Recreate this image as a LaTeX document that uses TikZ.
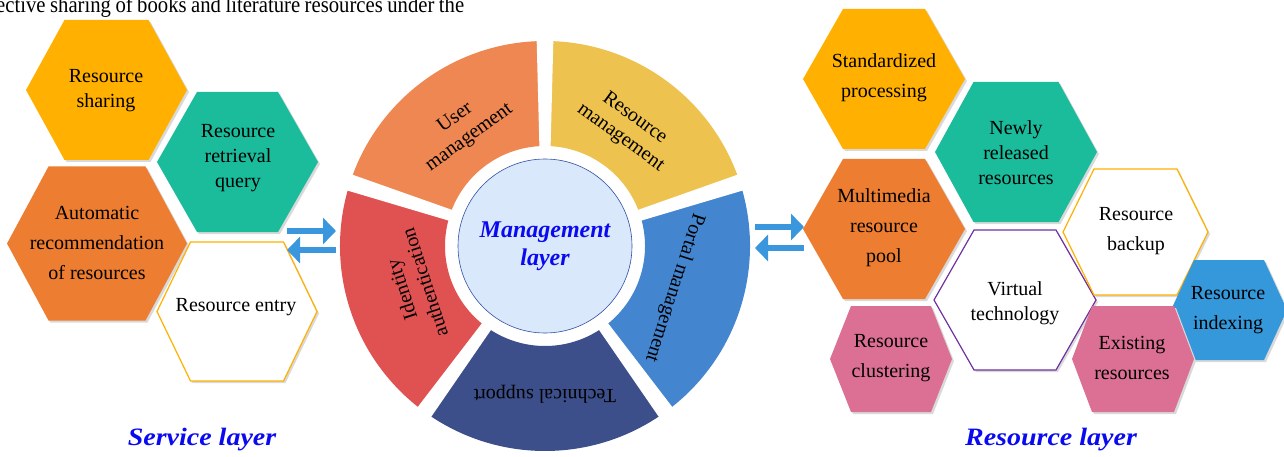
\documentclass[tikz,border=0pt]{standalone}
\usepackage{fontspec}
\setmainfont{Liberation Serif}
\usetikzlibrary{arrows.meta}
\definecolor{hexyellow}{HTML}{FFB000}
\definecolor{hexteal}{HTML}{1ABC9C}
\definecolor{hexorange}{HTML}{ED7D31}
\definecolor{hexpink}{HTML}{DC7094}
\definecolor{hexblue}{HTML}{3498DB}
\definecolor{hexpurple}{HTML}{7030A0}
\definecolor{segorange}{HTML}{EF8753}
\definecolor{seggold}{HTML}{EEC24E}
\definecolor{segblue}{HTML}{4485D0}
\definecolor{segnavy}{HTML}{3C4F8A}
\definecolor{segred}{HTML}{E05252}
\definecolor{corefill}{HTML}{D9E8FB}
\definecolor{coreline}{HTML}{3050A0}
\definecolor{arrowblue}{HTML}{3A96DD}
\definecolor{layerblue}{HTML}{0A0AF0}
% #1 style, #2 cx, #3 cy, #4 half width, #5 half top edge, #6 half height
\newcommand\myhex[6]{%
  \fill[black!15] ({#2-#4+2},{#3+2}) -- ({#2-#5+2},{#3-#6+2}) -- ({#2+#5+2},{#3-#6+2}) -- ({#2+#4+2},{#3+2}) -- ({#2+#5+2},{#3+#6+2}) -- ({#2-#5+2},{#3+#6+2}) -- cycle;
  \path[#1] ({#2-#4},{#3}) -- ({#2-#5},{#3-#6}) -- ({#2+#5},{#3-#6}) -- ({#2+#4},{#3}) -- ({#2+#5},{#3+#6}) -- ({#2-#5},{#3+#6}) -- cycle;}
\tikzset{
  hY/.style={fill=hexyellow},
  hT/.style={fill=hexteal},
  hO/.style={fill=hexorange},
  hP/.style={fill=hexpink},
  hB/.style={fill=hexblue},
  hWY/.style={fill=white, draw=hexyellow, line width=1.2pt},
  hWP/.style={fill=white, draw=hexpurple, line width=1.2pt},
  htext/.style={align=center, inner sep=0pt, font=\fontsize{20}{25}\selectfont},
  htextw/.style={align=center, inner sep=0pt, font=\fontsize{20}{30}\selectfont},
  ringtext/.style={align=center, inner sep=0pt, font=\fontsize{20}{24}\selectfont},
  layertitle/.style={inner sep=0pt, text=layerblue, font=\fontsize{25}{25}\selectfont\bfseries\itshape},
  flow/.style={draw=arrowblue, line width=6pt, -{Triangle[length=13pt,width=26pt]}},
}
\begin{document}
\begin{tikzpicture}[x=1pt,y=-1pt]
\useasboundingbox (0,0) rectangle (1284,457);
\clip (0,0) rectangle (1284,457);

% cut-off text line at the top
\node[anchor=base west, inner sep=0pt, font=\fontsize{23}{23}\selectfont] (cut) at (-4,13)
  {\scalebox{0.9}[1]{\makebox[520pt][s]{ective sharing of books and literature resources under the}}};

% ---------------- service layer ----------------
\myhex{hY}{106.5}{90}{80.5}{42}{70}
\myhex{hT}{237.5}{162}{80.5}{40.5}{70}
\myhex{hO}{97}{243.5}{90}{48.5}{77}
\myhex{hWY}{237}{311.5}{80}{46.5}{69.5}
\node[htext] (share) at (106,91) {Resource\\sharing};
\node[htext] (query) at (238,158) {Resource\\retrieval\\query};
\node[htextw] (recom) at (97,243) {Automatic\\recommendation\\of resources};
\node[htext] (entry) at (236,307) {Resource entry};
\node[layertitle] (service) at (202,440) {\scalebox{1.12}[1]{Service layer}};

% ---------------- arrows ----------------
\coordinate (la1) at (287,231); \coordinate (la2) at (336,231);
\coordinate (lb1) at (336,250); \coordinate (lb2) at (287,250);
\coordinate (ra1) at (755,227); \coordinate (ra2) at (804,227);
\coordinate (rb1) at (804,248); \coordinate (rb2) at (755,248);
\draw[flow] (la1) -- (la2);
\draw[flow] (lb1) -- (lb2);
\draw[flow] (ra1) -- (ra2);
\draw[flow] (rb1) -- (rb2);

% ---------------- management layer ----------------
\begin{scope}[shift={(545,246)}]
  \fill[segnavy] (234:100pt) arc[start angle=234, end angle=306, radius=100pt] -- (306:205pt) arc[start angle=306, end angle=234, radius=205pt] -- cycle;
  \fill[segblue] (306:100pt) arc[start angle=306, end angle=378, radius=100pt] -- (378:205pt) arc[start angle=378, end angle=306, radius=205pt] -- cycle;
  \fill[seggold] (18:100pt) arc[start angle=18, end angle=90, radius=100pt] -- (90:205pt) arc[start angle=90, end angle=18, radius=205pt] -- cycle;
  \fill[segorange] (90:100pt) arc[start angle=90, end angle=162, radius=100pt] -- (162:205pt) arc[start angle=162, end angle=90, radius=205pt] -- cycle;
  \fill[segred] (162:100pt) arc[start angle=162, end angle=234, radius=100pt] -- (234:205pt) arc[start angle=234, end angle=162, radius=205pt] -- cycle;
  \foreach \a in {18,90,162,234,306}
    \fill[white, rotate=\a] (95pt,-5.5pt) -- (212pt,-8.5pt) -- (212pt,8.5pt) -- (95pt,5.5pt) -- cycle;
  \node[ringtext, rotate=36] (userm) at (125:144pt) {User\\management};
  \node[ringtext, rotate=-36] (resm) at (55:144pt) {Resource\\management};
  \node[ringtext, rotate=-108] (portal) at (-18:136pt) {Portal management};
  \node[ringtext, rotate=180] (tech) at (270:148pt) {Technical support};
  \node[ringtext, rotate=108] (ident) at (197:138pt) {Identity\\authentication};
  \node[circle, minimum size=174pt, inner sep=0pt, fill=corefill, draw=coreline, line width=0.6pt,
        align=center, text=layerblue, font=\fontsize{24}{28}\selectfont\bfseries\itshape] (core) at (0,0) {Management\\layer};
\end{scope}

% ---------------- resource layer ----------------
\myhex{hY}{884}{79}{81}{41}{70}
\myhex{hT}{1016}{152}{81}{42.5}{70}
\myhex{hO}{884}{229}{81}{41}{70}
\myhex{hWP}{1015}{300}{81}{41}{70}
\myhex{hWY}{1135.5}{232}{72.5}{41.5}{63}
\myhex{hB}{1229}{310}{58}{35}{50}
\myhex{hP}{891}{359}{61}{40}{53}
\myhex{hP}{1133}{359}{61}{41}{53}
\node[htextw] (stand) at (884,78) {Standardized\\processing};
\node[htext] (newly) at (1016,153) {Newly\\released\\resources};
\node[htextw] (multi) at (884,228) {Multimedia\\resource\\pool};
\node[htext] (virt) at (1015,303) {Virtual\\technology};
\node[htextw] (backup) at (1136,231) {Resource\\backup};
\node[htextw] (index) at (1228,310) {Resource\\indexing};
\node[htextw] (clust) at (891,358) {Resource\\clustering};
\node[htextw] (exist) at (1132,358) {Existing\\resources};
\node[layertitle] (reslayer) at (1051,440) {\scalebox{1.12}[1]{Resource layer}};
\end{tikzpicture}
\end{document}
